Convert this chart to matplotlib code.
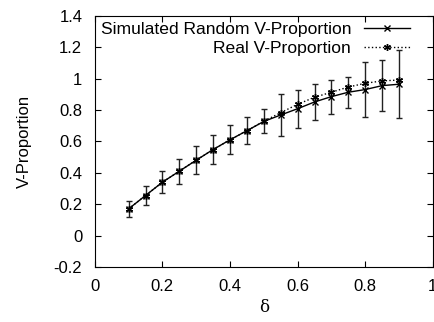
import matplotlib
matplotlib.use('Agg')
import matplotlib.pyplot as plt
import numpy as np

plt.rcParams['font.family'] = ['Liberation Sans', 'DejaVu Sans']

delta = [0.1, 0.15, 0.2, 0.25, 0.3, 0.35, 0.4, 0.45, 0.5,
         0.55, 0.6, 0.65, 0.7, 0.75, 0.8, 0.85, 0.9]
sim = [0.17, 0.255, 0.34, 0.41, 0.48, 0.548, 0.61, 0.668, 0.727,
       0.768, 0.808, 0.851, 0.885, 0.913, 0.93, 0.955, 0.964]
sim_err = [0.05, 0.063, 0.07, 0.08, 0.09, 0.09, 0.092, 0.085, 0.076,
           0.134, 0.122, 0.116, 0.108, 0.099, 0.176, 0.163, 0.215]
real = [0.17, 0.255, 0.34, 0.41, 0.48, 0.548, 0.61, 0.668, 0.728,
        0.783, 0.836, 0.881, 0.913, 0.946, 0.97, 0.985, 0.991]

fig = plt.figure(figsize=(4.35, 3.22), dpi=100)
ax = fig.add_axes([0.218, 0.171, 0.777, 0.780])

ax.errorbar(delta, sim, yerr=sim_err, fmt='none', ecolor='#222222',
            elinewidth=1, capsize=2, capthick=1)
ax.plot(delta, sim, color='black', lw=1, marker='x', ms=4, mew=1,
        label='Simulated Random V-Proportion')
ax.plot(delta, real, color='black', lw=1, ls=':', marker=(6, 2, 0), ms=5,
        mew=1, label='Real V-Proportion')

ax.set_xlim(0, 1)
ax.set_ylim(-0.2, 1.4)
ax.set_xticks(np.arange(0, 1.01, 0.2))
ax.set_yticks(np.arange(-0.2, 1.41, 0.2))
ax.set_xticklabels(['0', '0.2', '0.4', '0.6', '0.8', '1'])
ax.set_yticklabels(['-0.2', '0', '0.2', '0.4', '0.6', '0.8', '1', '1.2', '1.4'])
ax.tick_params(direction='in', top=True, right=True, length=4, labelsize=12)
ax.tick_params(axis='x', pad=9)
ax.tick_params(axis='y', pad=9)
ax.set_xlabel('δ', fontsize=12, family=['DejaVu Serif'], labelpad=3)
ax.set_ylabel('V-Proportion', fontsize=12)
ax.yaxis.set_label_coords(-0.185, 0.5)

ax.legend(loc='upper right', bbox_to_anchor=(0.932, 0.976), frameon=False,
          markerfirst=False, fontsize=12.6, handlelength=2.6, borderpad=0,
          borderaxespad=0, labelspacing=0.22, handletextpad=0.75)

fig.savefig('out.png', dpi=100)
